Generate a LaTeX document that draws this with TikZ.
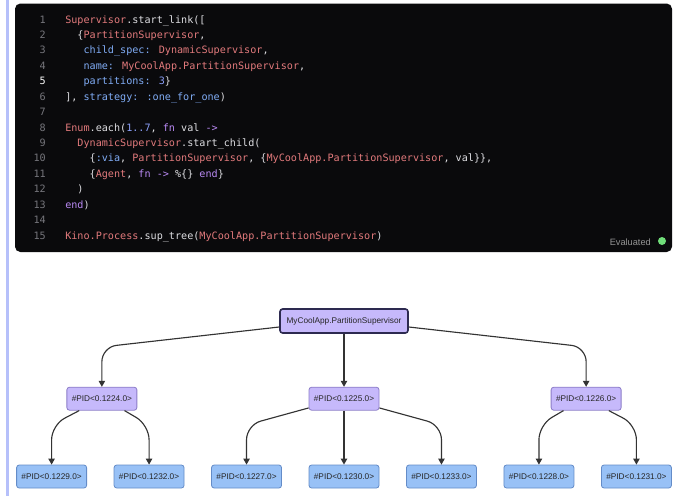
\documentclass[tikz,border=0pt]{standalone}
\usepackage{fontspec}
\setmainfont{Liberation Sans}
\newfontfamily\codefont{DejaVu Sans Mono}
\usetikzlibrary{arrows.meta,positioning}
\definecolor{barcol}{RGB}{182,192,250}
\definecolor{codebg}{RGB}{10,10,12}
\definecolor{ctext}{RGB}{222,222,226}
\definecolor{lnfg}{RGB}{118,118,124}
\definecolor{cmodc}{RGB}{226,122,124}
\definecolor{ckeyc}{RGB}{128,172,245}
\definecolor{ckwc}{RGB}{186,138,245}
\definecolor{cnumc}{RGB}{140,160,250}
\definecolor{okgreen}{RGB}{112,222,122}
\definecolor{supfill}{RGB}{198,185,251}
\definecolor{supline}{RGB}{45,42,80}
\definecolor{pidline}{RGB}{140,125,200}
\definecolor{leaffill}{RGB}{152,193,246}
\definecolor{leafline}{RGB}{100,140,200}
\definecolor{linkcol}{RGB}{51,51,51}
\newcommand\cmod[1]{\textcolor{cmodc}{#1}}
\newcommand\ckey[1]{\textcolor{ckeyc}{#1}}
\newcommand\ckw[1]{\textcolor{ckwc}{#1}}
\newcommand\cnum[1]{\textcolor{cnumc}{#1}}

\begin{document}
\begin{tikzpicture}[
  x=0.75pt, y=-0.75pt, >={Triangle[length=4.5pt,width=4.8pt]}, node distance=20pt,
  src/.style={anchor=base west, inner sep=0pt, text=ctext, font=\codefont\fontsize{7.6}{9}\selectfont},
  lno/.style={anchor=base east, inner sep=0pt, text=lnfg, font=\codefont\fontsize{7.6}{9}\selectfont},
  box/.style={draw, rounded corners=2pt, align=center, font=\fontsize{6.2}{7.5}\selectfont,
              text=black!85, inner sep=2pt, minimum height=17.25pt, minimum width=52.5pt},
  topbox/.style={box, fill=supfill, draw=supline, line width=1.2pt, minimum width=96pt, minimum height=18pt},
  pidbox/.style={box, fill=supfill, draw=pidline, line width=0.6pt},
  leafbox/.style={box, fill=leaffill, draw=leafline, line width=0.6pt},
  arr/.style={->, line width=0.85pt, draw=linkcol, rounded corners=11pt}
]
\useasboundingbox (0,0) rectangle (680,496);
\fill[white] (0,0) rectangle (680,496);
\fill[barcol] (6,0) rectangle (8.5,496);

% code cell
\fill[codebg, rounded corners=4pt] (15,3.5) rectangle (672,252);
\foreach \i in {1,2,3,4,6,7,8,9,10,11,12,13,14,15}
  \node[lno] (n\i) at (46,{23+15.43*(\i-1)}) {\i};
\node[lno, text=white] (n5) at (46,84.7) {5};

\node[src] (l1) at (65,23) {\cmod{Supervisor}.start\_link([};
\node[src] (l2) at (65,38.4) {~~\{\cmod{PartitionSupervisor},};
\node[src] (l3) at (65,53.9) {~~~\ckey{child\_spec:} \cmod{DynamicSupervisor},};
\node[src] (l4) at (65,69.3) {~~~\ckey{name:} \cmod{MyCoolApp.PartitionSupervisor},};
\node[src] (l5) at (65,84.7) {~~~\ckey{partitions:} \cnum{3}\}};
\node[src] (l6) at (65,100.2) {], \ckey{strategy:} \ckey{:one\_for\_one})};
\node[src] (l8) at (65,131) {\cmod{Enum}.each(\cnum{1..7}, \ckw{fn} val \ckw{->}};
\node[src] (l9) at (65,146.4) {~~\cmod{DynamicSupervisor}.start\_child(};
\node[src] (l10) at (65,161.9) {~~~~\{\ckey{:via}, \cmod{PartitionSupervisor}, \{\cmod{MyCoolApp.PartitionSupervisor}, val\}\},};
\node[src] (l11) at (65,177.3) {~~~~\{\cmod{Agent}, \ckw{fn} \ckw{->} \%\{\} \ckw{end}\}};
\node[src] (l12) at (65,192.7) {~~)};
\node[src] (l13) at (65,208.2) {\ckw{end})};
\node[src] (l15) at (65,239) {\cmod{Kino.Process}.sup\_tree(\cmod{MyCoolApp.PartitionSupervisor})};

\node[anchor=base east, inner sep=0pt, text=black!42, font=\fontsize{6.9}{8}\selectfont] (status) at (651,245) {Evaluated};
\node[circle, fill=okgreen, minimum size=6pt, inner sep=0pt] (dot) at (662,241) {};

% supervision tree
\node[topbox] (root) at (344,321) {MyCoolApp.PartitionSupervisor};
\node[pidbox, below=39.75pt of root] (p2) {\#PID<0.1225.0>};
\node[pidbox, left=128.5pt of p2] (p1) {\#PID<0.1224.0>};
\node[pidbox, right=128.5pt of p2] (p3) {\#PID<0.1226.0>};

\node[leafbox, below=40.5pt of p2] (c4) {\#PID<0.1230.0>};
\node[leafbox, left=of c4] (c3) {\#PID<0.1227.0>};
\node[leafbox, left=of c3] (c2) {\#PID<0.1232.0>};
\node[leafbox, left=of c2] (c1) {\#PID<0.1229.0>};
\node[leafbox, right=of c4] (c5) {\#PID<0.1233.0>};
\node[leafbox, right=of c5] (c6) {\#PID<0.1228.0>};
\node[leafbox, right=of c6] (c7) {\#PID<0.1231.0>};

\coordinate (rowA) at (0,347);
\coordinate (rowB) at (0,425);

\draw[arr] ([yshift=-4.5pt]root.west) -- (p1.north |- rowA) -- (p1.north);
\draw[arr] (root) -- (p2);
\draw[arr] ([yshift=-4.5pt]root.east) -- (p3.north |- rowA) -- (p3.north);

\draw[arr] ([xshift=-17pt]p1.south) -- (c1.north |- rowB) -- (c1.north);
\draw[arr] ([xshift=17pt]p1.south) -- (c2.north |- rowB) -- (c2.north);
\draw[arr] ([yshift=2pt]p2.south west) -- (c3.north |- rowB) -- (c3.north);
\draw[arr] (p2) -- (c4);
\draw[arr] ([yshift=2pt]p2.south east) -- (c5.north |- rowB) -- (c5.north);
\draw[arr] ([xshift=-17pt]p3.south) -- (c6.north |- rowB) -- (c6.north);
\draw[arr] ([xshift=17pt]p3.south) -- (c7.north |- rowB) -- (c7.north);
\end{tikzpicture}
\end{document}
